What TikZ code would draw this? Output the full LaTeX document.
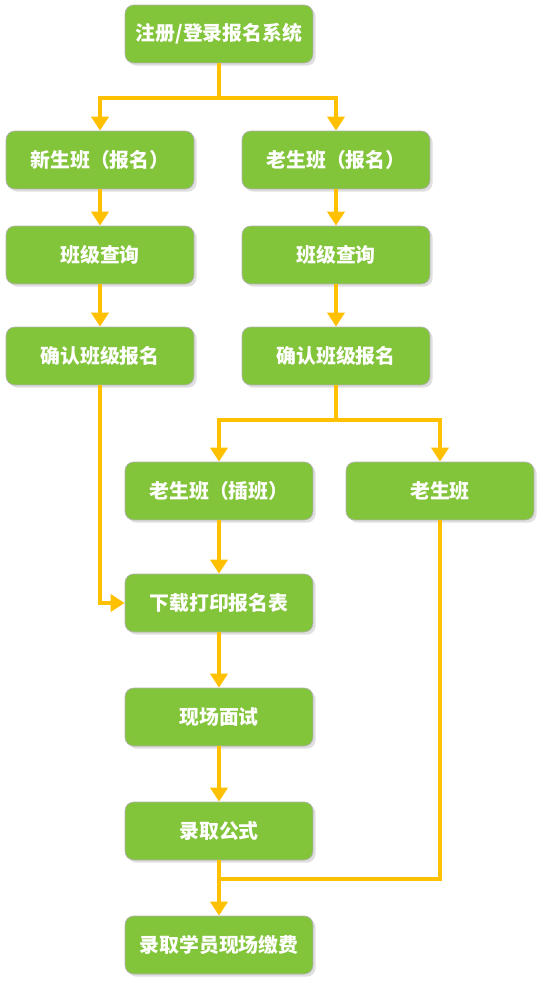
\documentclass[tikz,border=0pt]{standalone}
\usepackage{fontspec}
\newfontfamily\cjk{Noto Sans CJK SC}
\usetikzlibrary{arrows.meta,shadows}
\definecolor{verde}{HTML}{82C43A}
\definecolor{naranja}{HTML}{FFC000}
\begin{document}
\begin{tikzpicture}[x=0.02cm, y=-0.02cm,
    caja/.style={draw=black!30, thin, fill=verde, rounded corners=5pt, minimum width=3.76cm, minimum height=1.16cm,
      text=white, font=\cjk\bfseries\fontsize{11.3}{13}\selectfont,
      drop shadow={shadow xshift=1.5pt, shadow yshift=-1.5pt, opacity=0.25}},
    linea/.style={draw=naranja, line width=0.09cm},
    flecha/.style={linea, -{Triangle[length=0.28cm, width=0.34cm]}}
  ]
  \useasboundingbox (0,0) rectangle (542,986);

  % --- cajas ---
  \node[caja] (reg) at (219,34) {注册/登录报名系统};
  \node[caja] (n1) at (100,160) {新生班（报名）};
  \node[caja] (v1) at (336,160) {老生班（报名）};
  \node[caja] (n2) at (100,255) {班级查询};
  \node[caja] (v2) at (336,255) {班级查询};
  \node[caja] (n3) at (100,356) {确认班级报名};
  \node[caja] (v3) at (336,356) {确认班级报名};
  \node[caja] (ins) at (219,491) {老生班（插班）};
  \node[caja] (vie) at (440,491) {老生班};
  \node[caja] (dl) at (219,603) {下载打印报名表};
  \node[caja] (ent) at (219,717) {现场面试};
  \node[caja] (adm) at (219,831) {录取公式};
  \node[caja] (pag) at (219,945) {录取学员现场缴费};

  % --- puntos de union ---
  \coordinate (s1) at (219,98);
  \coordinate (s2) at (336,420);
  \coordinate (s3) at (219,879);

  % --- conectores ---
  \draw[flecha] (reg.south) -- (s1) -| (n1.north);
  \draw[flecha] (s1) -| (v1.north);
  \draw[flecha] (n1) -- (n2);
  \draw[flecha] (v1) -- (v2);
  \draw[flecha] (n2) -- (n3);
  \draw[flecha] (v2) -- (v3);
  \draw[flecha] (n3.south) |- (dl.west);
  \draw[flecha] (v3.south) -- (s2) -| (ins.north);
  \draw[flecha] (s2) -| (vie.north);
  \draw[flecha] (ins) -- (dl);
  \draw[flecha] (dl) -- (ent);
  \draw[flecha] (ent) -- (adm);
  \draw[linea] (vie.south) |- (s3);
  \draw[flecha] (adm) -- (pag);
\end{tikzpicture}
\end{document}
